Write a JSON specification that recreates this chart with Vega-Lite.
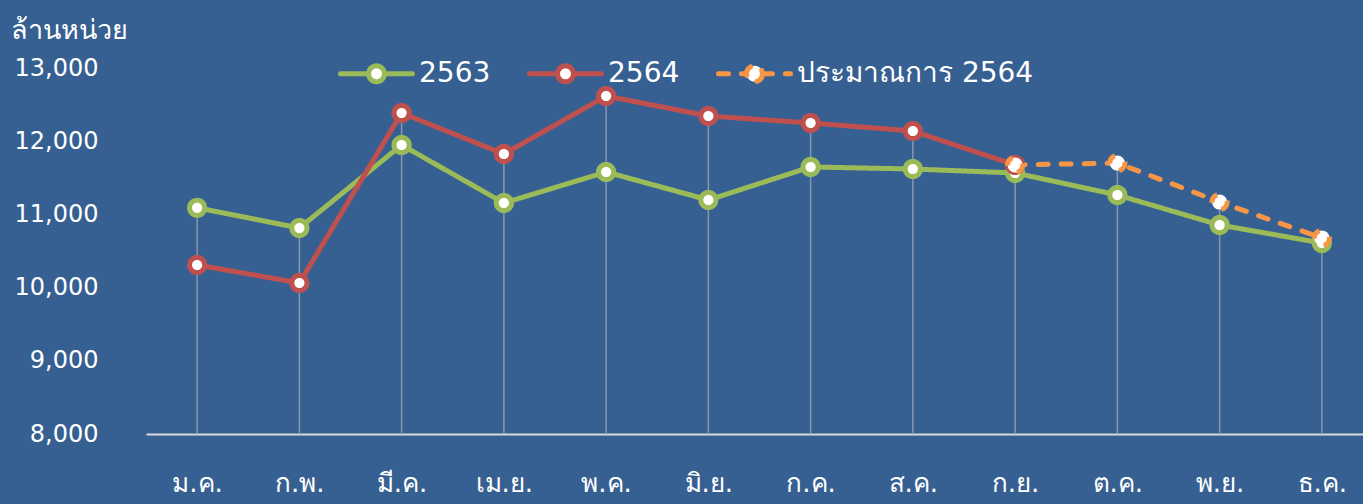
{
  "$schema": "https://vega.github.io/schema/vega-lite/v6.json",
  "autosize": "none",
  "width": 1227,
  "height": 366,
  "padding": {"left": 146, "top": 68, "right": 0, "bottom": 70},
  "background": "#376092",
  "config": {
    "view": {"stroke": null},
    "font": "DejaVu Sans"
  },
  "title": {
    "text": "ปริมาณการจำหน่ายไฟฟ้า ปี 2563 และ ประมาณการ ปี 2564",
    "anchor": "start",
    "frame": "group",
    "dx": 109,
    "offset": 62,
    "fontSize": 30,
    "fontWeight": "normal",
    "color": "white",
    "baseline": "alphabetic"
  },
  "data": {
    "values": [
      {"month": "ม.ค.", "series": "2563", "value": 11090},
      {"month": "ก.พ.", "series": "2563", "value": 10814},
      {"month": "มี.ค.", "series": "2563", "value": 11948},
      {"month": "เม.ย.", "series": "2563", "value": 11156},
      {"month": "พ.ค.", "series": "2563", "value": 11579},
      {"month": "มิ.ย.", "series": "2563", "value": 11197},
      {"month": "ก.ค.", "series": "2563", "value": 11648},
      {"month": "ส.ค.", "series": "2563", "value": 11620},
      {"month": "ก.ย.", "series": "2563", "value": 11566},
      {"month": "ต.ค.", "series": "2563", "value": 11265},
      {"month": "พ.ย.", "series": "2563", "value": 10855},
      {"month": "ธ.ค.", "series": "2563", "value": 10609},
      {"month": "ม.ค.", "series": "2564", "value": 10309},
      {"month": "ก.พ.", "series": "2564", "value": 10063},
      {"month": "มี.ค.", "series": "2564", "value": 12385},
      {"month": "เม.ย.", "series": "2564", "value": 11825},
      {"month": "พ.ค.", "series": "2564", "value": 12617},
      {"month": "มิ.ย.", "series": "2564", "value": 12344},
      {"month": "ก.ค.", "series": "2564", "value": 12249},
      {"month": "ส.ค.", "series": "2564", "value": 12139},
      {"month": "ก.ย.", "series": "2564", "value": 11675},
      {"month": "ก.ย.", "series": "ประมาณการ 2564", "value": 11675},
      {"month": "ต.ค.", "series": "ประมาณการ 2564", "value": 11702},
      {"month": "พ.ย.", "series": "ประมาณการ 2564", "value": 11169},
      {"month": "ธ.ค.", "series": "ประมาณการ 2564", "value": 10678}
    ]
  },
  "encoding": {
    "x": {
      "field": "month",
      "type": "ordinal",
      "sort": ["ม.ค.", "ก.พ.", "มี.ค.", "เม.ย.", "พ.ค.", "มิ.ย.", "ก.ค.", "ส.ค.", "ก.ย.", "ต.ค.", "พ.ย.", "ธ.ค."],
      "scale": {"type": "point", "padding": 0.5},
      "axis": {
        "title": null,
        "labelAngle": 0,
        "labelFontSize": 26,
        "labelColor": "white",
        "labelPadding": 36,
        "ticks": false,
        "grid": false,
        "domainColor": "#D9D9D9",
        "domainWidth": 2
      }
    }
  },
  "layer": [
    {
      "transform": [
        {"aggregate": [{"op": "max", "field": "value", "as": "vmax"}], "groupby": ["month"]}
      ],
      "mark": {"type": "rule", "color": "#8497B0", "strokeWidth": 1.5},
      "encoding": {
        "y": {
          "field": "vmax",
          "type": "quantitative",
          "scale": {"domain": [8000, 13000], "nice": false},
          "axis": {
            "title": "ล้านหน่วย",
            "titleAngle": 0,
            "titleAlign": "left",
            "titleBaseline": "middle",
            "titleX": -136,
            "titleY": -38,
            "titleFontSize": 27,
            "titleFontWeight": "normal",
            "titleColor": "white",
            "values": [8000, 9000, 10000, 11000, 12000, 13000],
            "format": ",.0f",
            "labelFontSize": 24,
            "labelColor": "white",
            "labelPadding": 48,
            "ticks": false,
            "domain": false,
            "grid": false
          }
        },
        "y2": {"datum": 8000}
      }
    },
    {
      "mark": {"type": "line", "strokeWidth": 5, "strokeCap": "round"},
      "encoding": {
        "y": {"field": "value", "type": "quantitative"},
        "color": {
          "field": "series",
          "type": "nominal",
          "scale": {"domain": ["2563", "2564", "ประมาณการ 2564"], "range": ["#9BBB59", "#C0504D", "#F79646"]},
          "legend": {
            "title": null,
            "orient": "none",
            "direction": "horizontal",
            "legendX": 192,
            "legendY": -33,
            "symbolType": "M-1,0H-0.22M0.22,0H1M0.22,0A0.22,0.22,0,1,1,-0.22,0A0.22,0.22,0,1,1,0.22,0Z",
            "symbolSize": 5184,
            "symbolStrokeWidth": 5,
            "labelFontSize": 28,
            "labelColor": "white",
            "labelOffset": 4,
            "columnPadding": 28,
            "labelLimit": 400,
            "encode": {"symbols": {"update": {"fill": {"value": "white"}, "fillOpacity": {"value": 1}, "strokeCap": {"value": "round"}}}}
          }
        },
        "strokeDash": {
          "field": "series",
          "type": "nominal",
          "scale": {"domain": ["2563", "2564", "ประมาณการ 2564"], "range": [[1, 0], [1, 0], [10, 13]]},
          "legend": {
            "title": null,
            "orient": "none",
            "direction": "horizontal",
            "legendX": 192,
            "legendY": -33,
            "symbolType": "M-1,0H-0.22M0.22,0H1M0.22,0A0.22,0.22,0,1,1,-0.22,0A0.22,0.22,0,1,1,0.22,0Z",
            "symbolSize": 5184,
            "symbolStrokeWidth": 5,
            "labelFontSize": 28,
            "labelColor": "white",
            "labelOffset": 4,
            "columnPadding": 28,
            "labelLimit": 400,
            "encode": {"symbols": {"update": {"fill": {"value": "white"}, "fillOpacity": {"value": 1}, "strokeCap": {"value": "round"}}}}
          }
        }
      }
    },
    {
      "mark": {"type": "point", "filled": false, "fill": "white", "fillOpacity": 1, "opacity": 1, "size": 230, "strokeWidth": 5},
      "encoding": {
        "y": {"field": "value", "type": "quantitative"},
        "color": {"field": "series", "type": "nominal", "legend": null},
        "strokeDash": {"field": "series", "type": "nominal", "legend": null}
      }
    }
  ]
}
